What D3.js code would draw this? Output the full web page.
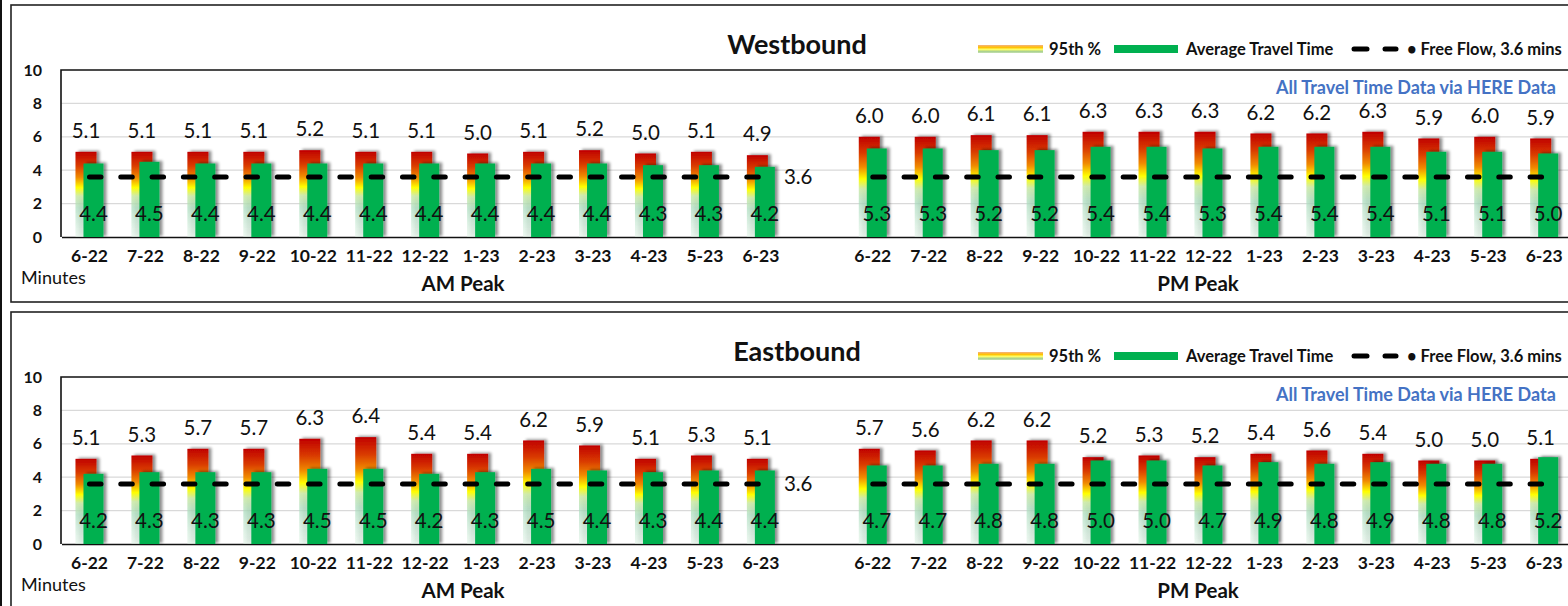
<!DOCTYPE html>
<html>
<head>
<meta charset="utf-8">
<script src="https://cdn.jsdelivr.net/npm/d3@7"></script>
<style>
  html, body { margin: 0; padding: 0; background: #fff; }
  svg { display: block; font-family: "Lato", "Carlito", "Calibri", sans-serif; }
</style>
</head>
<body>
<svg id="chart" width="1568" height="606"></svg>
<script>
// ---------------- data ----------------
const months = ["6-22","7-22","8-22","9-22","10-22","11-22","12-22","1-23","2-23","3-23","4-23","5-23","6-23"];
const periods = ["AM Peak", "PM Peak"];
const yTicks = [0, 2, 4, 6, 8, 10];
const freeFlow = 3.6;

const wbAm95  = [5.1,5.1,5.1,5.1,5.2,5.1,5.1,5.0,5.1,5.2,5.0,5.1,4.9];
const wbAmAvg = [4.4,4.5,4.4,4.4,4.4,4.4,4.4,4.4,4.4,4.4,4.3,4.3,4.2];
const wbPm95  = [6.0,6.0,6.1,6.1,6.3,6.3,6.3,6.2,6.2,6.3,5.9,6.0,5.9];
const wbPmAvg = [5.3,5.3,5.2,5.2,5.4,5.4,5.3,5.4,5.4,5.4,5.1,5.1,5.0];

const ebAm95  = [5.1,5.3,5.7,5.7,6.3,6.4,5.4,5.4,6.2,5.9,5.1,5.3,5.1];
const ebAmAvg = [4.2,4.3,4.3,4.3,4.5,4.5,4.2,4.3,4.5,4.4,4.3,4.4,4.4];
const ebPm95  = [5.7,5.6,6.2,6.2,5.2,5.3,5.2,5.4,5.6,5.4,5.0,5.0,5.1];
const ebPmAvg = [4.7,4.7,4.8,4.8,5.0,5.0,4.7,4.9,4.8,4.9,4.8,4.8,5.2];

const legendLabels = ["95th %", "Average Travel Time", "\u2022 Free Flow, 3.6 mins"];
const sourceNote = "All Travel Time Data via HERE Data";

// ---------------- setup ----------------
const svg = d3.select("#chart");
const FONT = '"Lato", "Carlito", "Calibri", sans-serif';

const defs = svg.append("defs");
const grad = defs.append("linearGradient").attr("id", "g95")
  .attr("x1", 0).attr("y1", 0).attr("x2", 0).attr("y2", 1);
[[0, "#C00000", 1], [0.16, "#D93A06", 1], [0.30, "#F08A00", 1], [0.42, "#FFFF00", 1],
 [0.52, "#CDEBA8", 0.9], [0.66, "#A9DCBC", 0.7], [1, "#D8F0E0", 0.45]]
  .forEach(([o, c, a]) => grad.append("stop").attr("offset", o).attr("stop-color", c).attr("stop-opacity", a));

const lgGrad = defs.append("linearGradient").attr("id", "gLeg")
  .attr("x1", 0).attr("y1", 0).attr("x2", 0).attr("y2", 1);
[[0, "#F4B183"], [0.3, "#FFC000"], [0.55, "#FFFF66"], [0.8, "#A9D18E"], [1, "#C5E0B4"]]
  .forEach(([o, c]) => lgGrad.append("stop").attr("offset", o).attr("stop-color", c));

const f = defs.append("filter").attr("id", "sh")
  .attr("x", "-40%").attr("y", "-20%").attr("width", "180%").attr("height", "140%");
f.append("feGaussianBlur").attr("in", "SourceAlpha").attr("stdDeviation", 1.8);
f.append("feOffset").attr("dx", 2.5).attr("dy", -1.5).attr("result", "ob");
f.append("feComponentTransfer").append("feFuncA").attr("type", "linear").attr("slope", 0.45);
const fm = f.append("feMerge");
fm.append("feMergeNode");
fm.append("feMergeNode").attr("in", "SourceGraphic");

// outer left rule
svg.append("line").attr("x1", 1).attr("x2", 1).attr("y1", 0).attr("y2", 606)
  .attr("stroke", "#111").attr("stroke-width", 2);

// band scale across AM, gap, PM
const slots = [...months.map(m => "AM|" + m), "gap", ...months.map(m => "PM|" + m)];
const x = d3.scaleBand().domain(slots).range([61.5, 61.5 + 27 * 55.95]).padding(0);
const cx = k => x(k) + x.bandwidth() / 2;
const y = d3.scaleLinear().domain([0, 10]).range([237, 70]);

function drawPanel(g, title, am95, amAvg, pm95, pmAvg) {
  // panel frame
  g.append("rect").attr("x", 11).attr("y", 5).attr("width", 1600).attr("height", 297)
    .attr("fill", "none").attr("stroke", "#222").attr("stroke-width", 1.6);

  // gridlines
  g.append("g").selectAll("line").data(yTicks.filter(t => t > 0 && t < 10)).join("line")
    .attr("x1", 61).attr("x2", 1568).attr("y1", d => y(d)).attr("y2", d => y(d))
    .attr("stroke", "#D9D9D9").attr("stroke-width", 1.2);

  // plot border (top & left)
  g.append("path").attr("d", `M61,${y(0)}V${y(10)}H1600`)
    .attr("fill", "none").attr("stroke", "#111").attr("stroke-width", 1.6);

  // y axis
  const ya = g.append("g").attr("transform", "translate(61,0)")
    .call(d3.axisLeft(y).tickValues(yTicks).tickSize(0).tickPadding(19));
  ya.select(".domain").remove();
  ya.selectAll("text").attr("font-family", FONT).attr("font-weight", "bold")
    .attr("font-size", 16).attr("fill", "#111");

  // x axis
  const xa = g.append("g").attr("transform", `translate(0,${y(0)})`)
    .call(d3.axisBottom(x).tickSize(0).tickPadding(13)
      .tickFormat(d => d === "gap" ? "" : d.split("|")[1]));
  xa.select(".domain").attr("stroke", "#111").attr("stroke-width", 1.6);
  xa.selectAll("text").attr("font-family", FONT).attr("font-weight", "bold")
    .attr("font-size", 17.5).attr("fill", "#111");

  const halves = [
    { p: "AM", v95: am95, avg: amAvg },
    { p: "PM", v95: pm95, avg: pmAvg }
  ];
  halves.forEach((h, hi) => {
    const rows = months.map((m, i) => ({ k: h.p + "|" + m, v95: h.v95[i], avg: h.avg[i] }));
    const bg = g.append("g");
    // 95th bars
    bg.selectAll("rect.p95").data(rows).join("rect").attr("class", "p95")
      .attr("x", d => cx(d.k) - 14).attr("width", 21)
      .attr("y", d => y(d.v95)).attr("height", d => y(0) - y(d.v95))
      .attr("fill", "url(#g95)").attr("filter", "url(#sh)");
    // average bars
    bg.selectAll("rect.avg").data(rows).join("rect").attr("class", "avg")
      .attr("x", d => cx(d.k) - 6).attr("width", 20)
      .attr("y", d => y(d.avg)).attr("height", d => y(0) - y(d.avg))
      .attr("fill", "#00B050").attr("filter", "url(#sh)");

    // free-flow dashed line
    const line = d3.line().x(d => cx(d.k)).y(() => y(freeFlow));
    bg.append("path").datum(rows).attr("d", line)
      .attr("fill", "none").attr("stroke", "#000").attr("stroke-width", 5)
      .attr("stroke-linecap", "round").attr("stroke-dasharray", "11.5,19.8");

    // labels
    bg.selectAll("text.l95").data(rows).join("text").attr("class", "l95")
      .attr("x", d => cx(d.k) - 3.5).attr("y", d => y(d.v95) - 21).attr("dy", "0.35em")
      .attr("text-anchor", "middle").attr("font-family", FONT).attr("font-size", 20.5)
      .attr("fill", "#111").text(d => d.v95.toFixed(1));
    bg.selectAll("text.lavg").data(rows).join("text").attr("class", "lavg")
      .attr("x", d => cx(d.k) + 4).attr("y", y(0) - 23).attr("dy", "0.35em")
      .attr("text-anchor", "middle").attr("font-family", FONT).attr("font-size", 20.5)
      .attr("fill", "#111").text(d => d.avg.toFixed(1));

    if (hi === 0) {
      const last = rows[rows.length - 1];
      bg.append("text").attr("x", cx(last.k) + 23).attr("y", y(freeFlow)).attr("dy", "0.35em")
        .attr("font-family", FONT).attr("font-size", 20.5).attr("fill", "#111")
        .text(freeFlow.toFixed(1));
    }
  });

  // group labels
  g.append("text").attr("x", 21).attr("y", 278).attr("dy", "0.35em")
    .attr("font-family", FONT).attr("font-size", 18).attr("fill", "#111").text("Minutes");
  [[periods[0], 463], [periods[1], 1198]].forEach(([t, px]) => {
    g.append("text").attr("x", px).attr("y", 284).attr("dy", "0.35em").attr("text-anchor", "middle")
      .attr("font-family", FONT).attr("font-weight", "bold").attr("font-size", 20.5)
      .attr("fill", "#111").text(t);
  });

  // title
  g.append("text").attr("x", 797).attr("y", 45).attr("dy", "0.35em").attr("text-anchor", "middle")
    .attr("font-family", FONT).attr("font-weight", "bold").attr("font-size", 27)
    .attr("fill", "#111").text(title);

  // legend
  const lg = g.append("g").attr("font-family", FONT).attr("font-weight", "bold")
    .attr("font-size", 16.5).attr("fill", "#111");
  lg.append("rect").attr("x", 978).attr("y", 45).attr("width", 65).attr("height", 8).attr("fill", "url(#gLeg)");
  lg.append("text").attr("x", 1049).attr("y", 49).attr("dy", "0.35em").text(legendLabels[0]);
  lg.append("rect").attr("x", 1114).attr("y", 45).attr("width", 64).attr("height", 8).attr("fill", "#00B050");
  lg.append("text").attr("x", 1186).attr("y", 49).attr("dy", "0.35em").text(legendLabels[1]);
  [[1354, 1367], [1385, 1396]].forEach(([a, b]) => {
    lg.append("line").attr("x1", a).attr("x2", b).attr("y1", 49).attr("y2", 49)
      .attr("stroke", "#000").attr("stroke-width", 5).attr("stroke-linecap", "round");
  });
  lg.append("text").attr("x", 1407).attr("y", 49).attr("dy", "0.35em").text(legendLabels[2]);

  // source note (kept fully inside the visible area)
  g.append("text").attr("x", 1276).attr("y", 88).attr("dy", "0.35em")
    .attr("font-family", FONT).attr("font-weight", "bold").attr("font-size", 18)
    .attr("fill", "#4472C4").text(sourceNote);
}

drawPanel(svg.append("g"), "Westbound", wbAm95, wbAmAvg, wbPm95, wbPmAvg);
drawPanel(svg.append("g").attr("transform", "translate(0,307)"), "Eastbound", ebAm95, ebAmAvg, ebPm95, ebPmAvg);
</script>
</body>
</html>
